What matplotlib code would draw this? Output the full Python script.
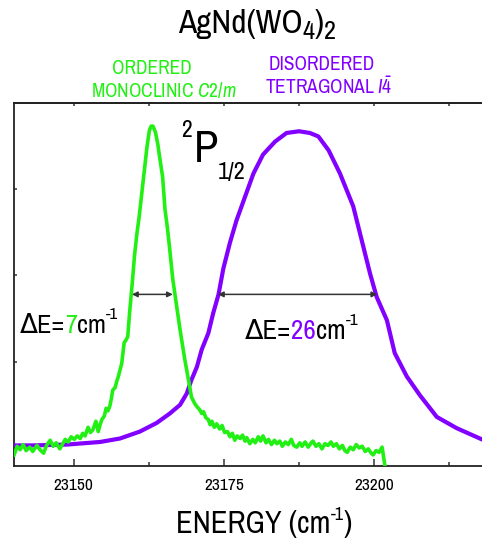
import numpy as np
import matplotlib
matplotlib.use("Agg")
import matplotlib.pyplot as plt
from matplotlib import font_manager

# pick a condensed sans if there is one
names = {f.name for f in font_manager.fontManager.ttflist}
FONT = "Liberation Sans"
for cand in ["Liberation Sans Narrow", "Arial Narrow", "Archivo Narrow", "Roboto Condensed",
             "PT Sans Narrow", "Fira Sans Condensed", "Encode Sans Condensed"]:
    if cand in names:
        FONT = cand
        break
plt.rcParams["font.family"] = [FONT, "DejaVu Sans"]
plt.rcParams["mathtext.fontset"] = "custom"
plt.rcParams["mathtext.rm"] = FONT
plt.rcParams["mathtext.it"] = FONT + ":italic"
plt.rcParams["mathtext.bf"] = FONT + ":bold"

GREEN = "#22f014"
PURPLE = "#8200ff"

# ordered monoclinic C2/m (green)
green_x = [23140.1, 23140.6, 23141.1, 23141.6, 23142.1, 23142.7, 23143.2, 23143.9, 23144.4, 23145.0,
           23145.5, 23146.1, 23146.6, 23147.1, 23147.7, 23148.2, 23148.6, 23149.1, 23149.6, 23150.1,
           23150.6, 23151.1, 23151.5, 23151.9, 23152.4, 23152.8, 23153.2, 23153.7, 23154.1, 23154.4,
           23154.7, 23155.1, 23155.4, 23155.7, 23156.0, 23156.3, 23156.5, 23156.9, 23157.2, 23157.4,
           23157.7, 23158.0, 23158.4, 23158.7, 23159.0, 23159.3, 23159.8, 23160.1, 23160.5, 23160.9,
           23161.5, 23162.2, 23162.6, 23162.9, 23163.2, 23163.6, 23164.0, 23164.2, 23164.8, 23165.2,
           23165.6, 23166.0, 23166.5, 23167.0, 23167.7, 23168.5, 23169.1, 23169.6, 23170.1, 23170.5,
           23171.0, 23171.3, 23171.6, 23172.0, 23172.4, 23172.7, 23173.0, 23173.4, 23173.8, 23174.3,
           23174.7, 23175.1, 23175.6, 23176.0, 23176.4, 23176.8, 23177.2, 23177.7, 23178.1, 23178.5,
           23178.8, 23179.3, 23179.8, 23180.2, 23180.7, 23181.1, 23181.5, 23182.0, 23182.4, 23182.9,
           23183.4, 23183.8, 23184.3, 23184.7, 23185.2, 23185.7, 23186.2, 23186.6, 23187.1, 23187.6,
           23188.0, 23188.5, 23189.0, 23189.4, 23189.8, 23190.3, 23190.8, 23191.3, 23191.8, 23192.3,
           23192.8, 23193.2, 23193.7, 23194.2, 23194.7, 23195.1, 23195.5, 23196.0, 23196.5, 23197.0,
           23197.5, 23198.0, 23198.5, 23199.0, 23199.5, 23199.8, 23200.3, 23200.8, 23201.3, 23201.8]
green_y = [-0.08, 0.02, -0.02, 0.04, -0.03, 0.01, -0.04, 0.03, -0.02, -0.06,
           0.03, 0.09, 0.02, 0.06, -0.01, 0.05, 0.10, 0.07, 0.13, 0.10,
           0.14, 0.11, 0.17, 0.14, 0.24, 0.18, 0.21, 0.31, 0.19, 0.27,
           0.33, 0.37, 0.46, 0.43, 0.48, 0.58, 0.67, 0.70, 0.78, 0.82,
           0.90, 0.98, 1.22, 1.25, 1.29, 1.56, 1.95, 2.21, 2.47, 2.68,
           3.05, 3.49, 3.68, 3.73, 3.73, 3.66, 3.52, 3.42, 3.14, 2.76,
           2.55, 2.29, 1.95, 1.71, 1.37, 1.02, 0.79, 0.59, 0.52, 0.48,
           0.44, 0.40, 0.42, 0.35, 0.33, 0.27, 0.31, 0.24, 0.28, 0.22,
           0.26, 0.18, 0.19, 0.13, 0.17, 0.09, 0.14, 0.11, 0.15, 0.08,
           0.12, 0.05, 0.10, 0.06, 0.13, 0.08, 0.14, 0.06, 0.10, 0.04,
           0.09, 0.05, 0.08, 0.02, 0.07, 0.04, 0.10, 0.03, 0.01, 0.06,
           0.02, 0.07, 0.01, 0.05, 0.08, 0.02, 0.05, -0.01, 0.05, 0.03,
           0.07, 0.02, 0.05, -0.01, 0.03, -0.03, -0.05, 0.01, -0.02, 0.04,
           0.00, 0.02, -0.04, -0.01, -0.06, -0.08, -0.03, -0.05, 0.01, -0.22]

# disordered tetragonal I-4 (purple)
purple_x = [23140.1, 23143.2, 23148.9, 23154.4, 23157.7, 23161.0, 23163.8, 23166.0, 23167.7, 23168.8,
            23169.6, 23170.5, 23171.3, 23172.4, 23173.2, 23174.1, 23174.9, 23176.0, 23177.1, 23178.5,
            23179.9, 23181.5, 23183.5, 23185.4, 23187.5, 23189.3, 23190.7, 23192.4, 23194.3, 23196.5,
            23197.9, 23199.3, 23200.4, 23202.1, 23203.4, 23205.4, 23207.6, 23210.4, 23213.7, 23217.9]
purple_y = [0.03, 0.03, 0.04, 0.07, 0.11, 0.19, 0.29, 0.40, 0.50, 0.63,
            0.79, 0.94, 1.14, 1.33, 1.56, 1.78, 2.08, 2.38, 2.64, 2.91,
            3.18, 3.40, 3.55, 3.65, 3.67, 3.65, 3.61, 3.45, 3.18, 2.80,
            2.41, 2.02, 1.75, 1.48, 1.10, 0.83, 0.61, 0.36, 0.23, 0.10]

fwhm_green = (23159.7, 23166.5)
fwhm_purple = (23174.0, 23200.5)
fwhm_level = 1.78

xticks = [23150, 23175, 23200]

W, H = 482, 541
fig = plt.figure(figsize=(W / 100, H / 100), dpi=100)
ax = fig.add_axes([13.5 / W, 1 - 465.7 / H, (W - 13.5) / W, (465.7 - 103.3) / H])


def px(x, y):
    return x / W, 1 - y / H


ax.plot(purple_x, purple_y, color=PURPLE, lw=3.0, solid_joinstyle="round", zorder=3)
ax.plot(green_x, green_y, color=GREEN, lw=2.6, solid_joinstyle="round", zorder=4)

for a, b in (fwhm_green, fwhm_purple):
    ax.annotate("", xy=(b, fwhm_level), xytext=(a, fwhm_level),
                arrowprops=dict(arrowstyle="<|-|>", color="#333333", lw=1.1,
                                mutation_scale=8, shrinkA=0, shrinkB=0), zorder=5)

ax.set_xlim(23140, 23140 + (W - 13.5) / 6.013)
ax.set_ylim(-0.205, 3.994)
ax.set_xticks(xticks)
ax.set_xticklabels([str(t) for t in xticks])
ax.set_xticks([23162.5, 23187.5, 23212.5], minor=True)
ax.set_yticks([0, 1, 2, 3])
ax.set_yticklabels([])
ax.tick_params(axis="x", which="major", direction="in", length=5, width=1.1,
               color="#333333", labelsize=12.5, pad=9)
ax.tick_params(axis="x", which="minor", direction="in", length=3, width=1.1, color="#333333")
ax.tick_params(axis="y", direction="in", length=2.5, width=1.1, color="#333333")
top = ax.secondary_xaxis("top")
top.set_xticks([23150, 23162.5, 23175, 23187.5, 23200, 23212.5])
top.set_xticklabels([])
top.tick_params(direction="in", length=2.5, width=1.1, color="#333333")
top.spines["top"].set_linewidth(1.3)
top.spines["top"].set_color("#222222")
for s in ("left", "bottom", "top"):
    ax.spines[s].set_linewidth(1.3)
    ax.spines[s].set_color("#222222")
ax.spines["right"].set_visible(False)

renderer = fig.canvas.get_renderer()


def chain(parts, x, y):
    # write pieces one after another; each piece may sit raised above the baseline
    for s, c, size, rise in parts:
        t = fig.text(*px(x, y - rise), s, color=c, fontsize=size, ha="left", va="baseline")
        x = t.get_window_extent(renderer).x1


chain([("AgNd(WO", "black", 24, 0), ("4", "black", 19, -6), (")", "black", 24, 0),
       ("2", "black", 19, -6)], 178, 33)
fig.text(*px(152, 73.5), "ORDERED", color=GREEN, fontsize=14, ha="center", va="baseline")
fig.text(*px(164, 97.5), "MONOCLINIC $\\mathit{C2/m}$", color=GREEN, fontsize=14,
         ha="center", va="baseline")
fig.text(*px(322, 69.5), "DISORDERED", color=PURPLE, fontsize=14, ha="center", va="baseline")
fig.text(*px(329, 94.5), "TETRAGONAL $\\mathit{I}\\bar{4}$", color=PURPLE, fontsize=14,
         ha="center", va="baseline")

fig.text(*px(181, 137), "2", fontsize=17, ha="left", va="baseline")
fig.text(*px(194, 162), "P", fontsize=32, ha="left", va="baseline")
fig.text(*px(218, 179), "1/2", fontsize=17.5, ha="left", va="baseline")

chain([("ΔE=", "black", 19, 0), ("7", GREEN, 19, 0), ("cm", "black", 19, 0),
       ("-1", "black", 12, 14)], 20, 333)
chain([("ΔE=", "black", 19.5, 0), ("26", PURPLE, 19.5, 0), ("cm", "black", 19.5, 0),
       ("-1", "black", 12.5, 14)], 245, 339)

chain([("ENERGY (cm", "black", 22, 0), ("-1", "black", 13, 13), (")", "black", 22, 0)],
      176, 533)

fig.savefig("out.png", dpi=100)
